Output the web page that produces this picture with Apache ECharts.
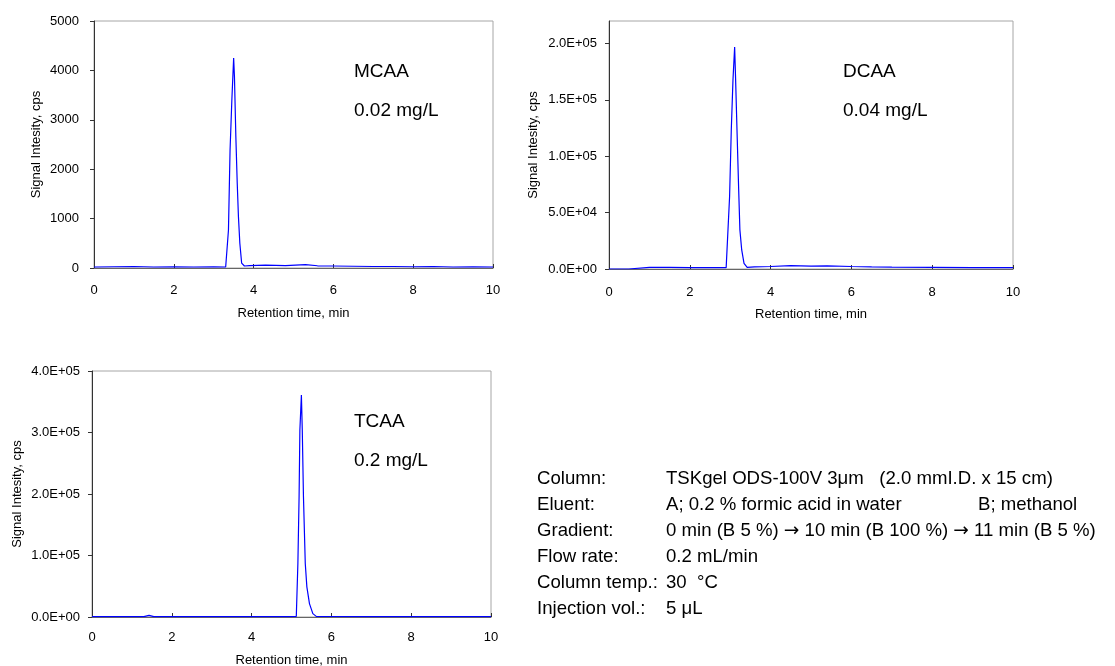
<!DOCTYPE html>
<html>
<head>
<meta charset="utf-8">
<script src="https://cdn.jsdelivr.net/npm/echarts@6/dist/echarts.min.js"></script>
<style>
html,body{margin:0;padding:0;background:#fff;}
#main{width:1115px;height:666px;}
</style>
</head>
<body>
<div id="main"></div>
<script>
// MCAA 0.02 mg/L
var mcaaTime = [0, 0.5, 1.0, 1.5, 2.0, 2.5, 3.0, 3.3, 3.335, 3.37, 3.41, 3.455, 3.50, 3.52, 3.555, 3.59, 3.62, 3.655, 3.70, 3.77, 3.9, 4.3, 4.8, 5.3, 5.6, 6.0, 6.5, 7.0, 7.5, 8.0, 8.5, 9.0, 9.5, 10];
var mcaaSignal = [20, 25, 30, 20, 25, 20, 25, 20, 40, 770, 2390, 3400, 4250, 3870, 2660, 1710, 1040, 500, 100, 40, 50, 60, 50, 70, 45, 40, 35, 30, 30, 25, 30, 20, 25, 20];

// DCAA 0.04 mg/L
var dcaaTime = [0, 0.49, 0.5, 1.0, 1.5, 2.0, 2.5, 2.9, 2.936, 2.985, 3.027, 3.069, 3.11, 3.134, 3.168, 3.21, 3.24, 3.285, 3.342, 3.42, 3.6, 4.0, 4.5, 5.0, 5.4, 6.0, 6.5, 7.0, 8.0, 9.0, 10];
var dcaaSignal = [0, 0, 1200, 1500, 1400, 1300, 1300, 1200, 1500, 64300, 123500, 168000, 197000, 168000, 123500, 70200, 34700, 16900, 5000, 1500, 1800, 2200, 3000, 2500, 2800, 2200, 1900, 1700, 1500, 1300, 1200];

// TCAA 0.2 mg/L
var tcaaTime = [0, 0.5, 1.0, 1.3, 1.43, 1.55, 2.0, 3.0, 4.0, 5.0, 5.12, 5.16, 5.19, 5.21, 5.248, 5.27, 5.30, 5.345, 5.385, 5.45, 5.535, 5.62, 6.0, 7.0, 8.0, 9.0, 10];
var tcaaSignal = [500, 500, 500, 600, 2700, 600, 500, 500, 500, 600, 800, 87000, 195000, 304000, 361000, 304000, 195000, 87000, 49000, 21800, 5500, 1000, 800, 600, 500, 500, 500];

// axis ranges [min, max, step]
var timeRange = [0, 10, 2];
var mcaaRange = [0, 5000, 1000];
var dcaaRange = [0, 220000, 50000];
var tcaaRange = [0, 400000, 100000];

var peakNames = ['MCAA', 'DCAA', 'TCAA'];
var peakConc = ['0.02 mg/L', '0.04 mg/L', '0.2 mg/L'];

var condLabels = ['Column:', 'Eluent:', 'Gradient:', 'Flow rate:', 'Column temp.:', 'Injection vol.:'];
var condValues = ['TSKgel ODS-100V 3μm   (2.0 mmI.D. x 15 cm)', 'A; 0.2 % formic acid in water', '0 min (B 5 %) {a|→} 10 min (B 100 %) {a|→} 11 min (B 5 %)', '0.2 mL/min', '30  °C', '5 μL'];
var eluentB = 'B; methanol';

var FONT = '"Liberation Sans", Arial, sans-serif';

function sci(v){
	if(v === 0) return '0.0E+00';
	var e = Math.floor(Math.log10(v) + 1e-9);
	var m = v / Math.pow(10, e);
	return m.toFixed(1) + 'E+' + (e < 10 ? '0' : '') + e;
}

function plain(v){
	return String(v);
}

function pairs(t, s){
	return t.map(function(x, i){ return [x, s[i]]; });
}

function xAxisOf(idx, gap, margin){
	return {
		type: 'value', gridIndex: idx,
		min: timeRange[0], max: timeRange[1], interval: timeRange[2],
		name: 'Retention time, min', nameLocation: 'middle', nameGap: gap,
		nameTextStyle: {color: '#000', fontSize: 13, fontFamily: FONT},
		axisLine: {show: true, onZero: false, lineStyle: {color: '#666', width: 1}},
		axisTick: {show: true, inside: true, length: 4, lineStyle: {color: '#333'}},
		axisLabel: {color: '#000', fontSize: 13, fontFamily: FONT, margin: margin},
		splitLine: {show: false}
	};
}

function yAxisOf(idx, range, fmt, gap, margin){
	return {
		type: 'value', gridIndex: idx,
		min: range[0], max: range[1], interval: range[2],
		name: 'Signal Intesity, cps', nameLocation: 'middle', nameGap: gap, nameRotate: 90,
		nameTextStyle: {color: '#000', fontSize: 13, fontFamily: FONT},
		axisLine: {show: true, lineStyle: {color: '#333', width: 1}},
		axisTick: {show: true, inside: false, length: 4, lineStyle: {color: '#333'}},
		axisLabel: {color: '#000', fontSize: 13, fontFamily: FONT, margin: margin, showMaxLabel: range[1] % range[2] === 0,
			formatter: fmt},
		splitLine: {show: false}
	};
}

function lineOf(idx, data){
	return {
		type: 'line', xAxisIndex: idx, yAxisIndex: idx,
		data: data, showSymbol: false, symbol: 'none', smooth: false,
		lineStyle: {color: '#0000FF', width: 1.2},
		itemStyle: {color: '#0000FF'},
		animation: false
	};
}

function label(x, y, text, size){
	return {
		type: 'text', left: x, top: y,
		style: {text: text, fill: '#000', font: size + 'px ' + FONT, lineHeight: 22,
			rich: {a: {fontFamily: '"DejaVu Sans"', fontSize: size, lineHeight: 22, fill: '#000'}}}
	};
}

var graphics = [];
graphics.push(label(354, 61, peakNames[0], 19));
graphics.push(label(354, 100, peakConc[0], 19));
graphics.push(label(843, 61, peakNames[1], 19));
graphics.push(label(843, 100, peakConc[1], 19));
graphics.push(label(354, 411, peakNames[2], 19));
graphics.push(label(354, 450, peakConc[2], 19));

for(var i = 0; i < condLabels.length; i++){
	var y = 468 + i * 26;
	graphics.push(label(537, y, condLabels[i], 18.6));
	graphics.push(label(666, y, condValues[i], 18.6));
}
graphics.push(label(978, 494, eluentB, 18.6));

var gridBase = {show: true, borderColor: '#a6a6a6', borderWidth: 1, backgroundColor: 'transparent', outerBoundsMode: 'none', containLabel: false};

var chart = echarts.init(document.getElementById('main'));
chart.setOption({
	backgroundColor: '#fff',
	animation: false,
	grid: [
		Object.assign({left: 94, top: 21, width: 399, height: 247}, gridBase),
		Object.assign({left: 609, top: 21, width: 404, height: 248}, gridBase),
		Object.assign({left: 92, top: 371, width: 399, height: 246}, gridBase)
	],
	xAxis: [xAxisOf(0, 39, 16), xAxisOf(1, 39, 17), xAxisOf(2, 37, 14)],
	yAxis: [
		yAxisOf(0, mcaaRange, plain, 51, 15),
		yAxisOf(1, dcaaRange, function(v){ return v % 50000 === 0 ? sci(v) : ''; }, 69, 12),
		yAxisOf(2, tcaaRange, sci, 68, 12)
	],
	series: [
		lineOf(0, pairs(mcaaTime, mcaaSignal)),
		lineOf(1, pairs(dcaaTime, dcaaSignal)),
		lineOf(2, pairs(tcaaTime, tcaaSignal))
	],
	graphic: graphics
});
</script>
</body>
</html>
